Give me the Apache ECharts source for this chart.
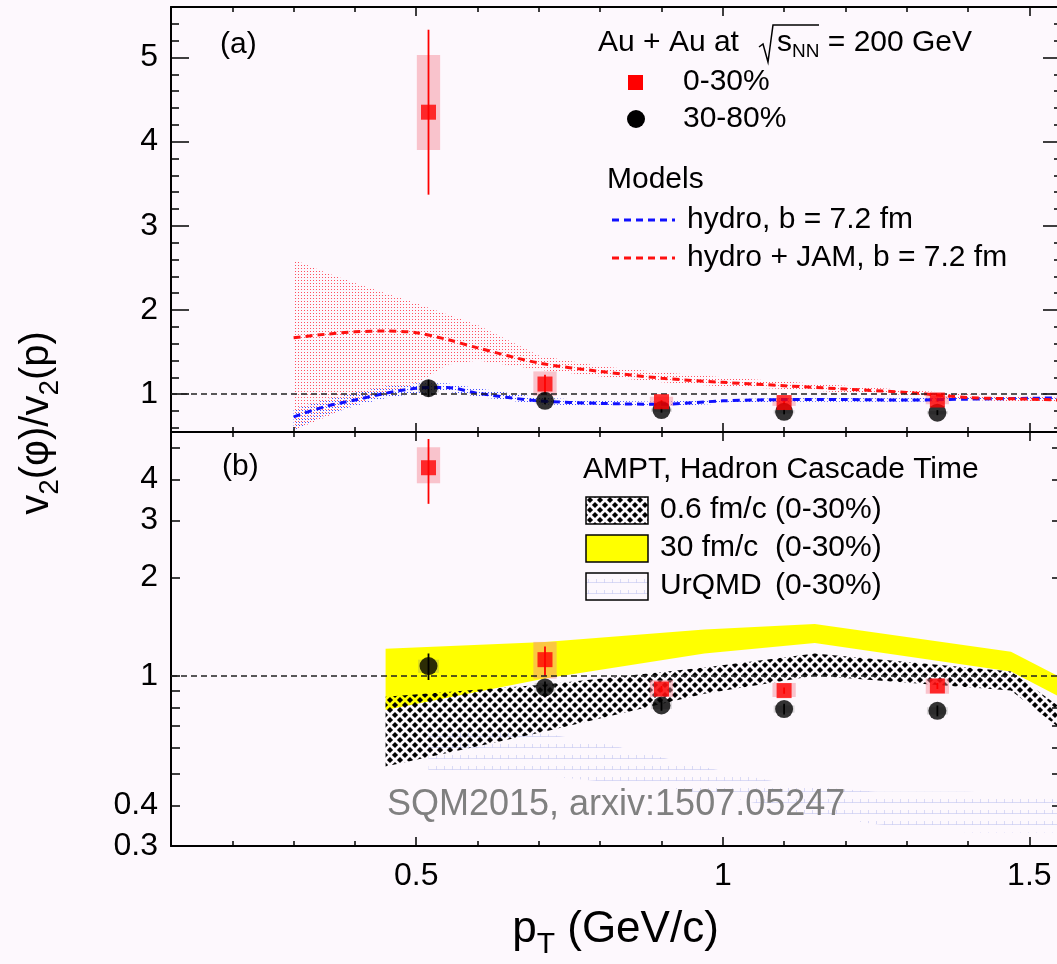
<!DOCTYPE html>
<html>
<head>
<meta charset="utf-8">
<title>v2(phi)/v2(p) vs pT</title>
<script src="https://cdn.jsdelivr.net/npm/echarts@6/dist/echarts.min.js"></script>
<style>
  html, body { margin: 0; padding: 0; background: #fdf8fd; }
  #chart { width: 1057px; height: 964px; }
</style>
</head>
<body>
<div id="chart"></div>
<script>
// measured ratio, Au+Au 200 GeV (same points in both panels)
const pt = [0.52, 0.71, 0.90, 1.10, 1.35];
const central = [4.35, 1.12, 0.91, 0.90, 0.93];
const centralStatLow = [3.37, 1.00, 0.89, 0.88, 0.91];
const centralStatHigh = [5.33, 1.23, 0.93, 0.92, 0.95];
const centralSysLow = [3.90, 0.98, 0.86, 0.86, 0.88];
const centralSysHigh = [5.03, 1.27, 0.97, 0.95, 0.98];
const peripheral = [1.07, 0.92, 0.81, 0.79, 0.78];
const peripheralStatLow = [0.97, 0.88, 0.78, 0.76, 0.75];
const peripheralStatHigh = [1.17, 0.96, 0.84, 0.82, 0.81];
const peripheralSysLow = [1.02, 0.89, 0.79, 0.77, 0.76];
const peripheralSysHigh = [1.12, 0.95, 0.83, 0.81, 0.80];

// hydro models, panel (a)
const modelPt = [0.30, 0.35, 0.40, 0.45, 0.50, 0.55, 0.60, 0.70, 0.80, 0.90, 1.00, 1.10, 1.20, 1.30, 1.40, 1.50, 1.55];
const hydroRatio = [0.73, 0.85, 0.93, 1.01, 1.07, 1.08, 1.01, 0.92, 0.89, 0.88, 0.92, 0.935, 0.935, 0.93, 0.94, 0.95, 0.956];
const hydroLow = [0.57, 0.74, 0.86, 0.95, 1.01, 1.03, 0.97, 0.88, 0.86, 0.85, 0.89, 0.91, 0.91, 0.91, 0.92, 0.93, 0.94];
const hydroHigh = [0.82, 0.93, 1.02, 1.09, 1.13, 1.13, 1.07, 0.96, 0.92, 0.91, 0.94, 0.95, 0.95, 0.95, 0.96, 0.97, 0.98];
const jamRatio = [1.67, 1.71, 1.74, 1.75, 1.73, 1.65, 1.55, 1.37, 1.27, 1.19, 1.14, 1.10, 1.06, 1.02, 0.96, 0.94, 0.93];
const jamLow = [0.57, 0.72, 0.88, 1.00, 1.12, 1.35, 1.40, 1.29, 1.21, 1.14, 1.09, 1.06, 1.02, 0.99, 0.93, 0.91, 0.90];
const jamHigh = [2.60, 2.45, 2.32, 2.20, 2.08, 1.95, 1.82, 1.46, 1.33, 1.26, 1.20, 1.15, 1.10, 1.05, 1.00, 0.97, 0.96];

// AMPT / UrQMD bands, panel (b)
const amptPt = [0.45, 0.71, 0.97, 1.15, 1.47, 1.55];
const ampt30Low = [0.785, 0.98, 1.17, 1.26, 1.03, 0.86];
const ampt30High = [1.21, 1.27, 1.385, 1.44, 1.185, 0.99];
const ampt06Low = [0.526, 0.674, 0.88, 1.00, 0.90, 0.69];
const ampt06High = [0.862, 0.94, 1.06, 1.17, 1.03, 0.80];
const urqmdPt = [0.52, 0.62, 0.72, 0.82, 0.92, 1.02, 1.12, 1.25, 1.40, 1.55];
const urqmdLow = [0.50, 0.50, 0.49, 0.47, 0.45, 0.42, 0.38, 0.35, 0.33, 0.33];
const urqmdHigh = [0.69, 0.68, 0.66, 0.61, 0.55, 0.50, 0.46, 0.44, 0.44, 0.43];

// ticks and labels
const xTickLabels = [0.5, 1, 1.5];
const topMinorTicks = [0.6, 0.8, 1.0, 1.2, 1.4, 1.6, 1.8, 2.0, 2.2, 2.4, 2.6, 2.8, 3.0, 3.2, 3.4, 3.6, 3.8, 4.0, 4.2, 4.4, 4.6, 4.8, 5.0, 5.2, 5.4];
const topMajorTicks = [1, 2, 3, 4, 5];
const bottomTicks = [0.4, 0.5, 0.6, 0.7, 0.8, 0.9, 1, 2, 3, 4, 5];
const bottomTickLabels = [0.3, 0.4, 1, 2, 3, 4];

const FONT = '"Liberation Sans", Arial, Helvetica, sans-serif';
const fmt = v => String(Math.round(v * 10) / 10);

function makePattern(w, h, draw) {
  const c = document.createElement('canvas');
  c.width = w;
  c.height = h;
  draw(c.getContext('2d'));
  return { image: c, repeat: 'repeat' };
}
const redDots = makePattern(3, 3, ctx => { ctx.fillStyle = '#ff5060'; ctx.fillRect(1, 1, 1, 1); });
const blueDots = makePattern(3, 3, ctx => { ctx.fillStyle = '#4450ff'; ctx.fillRect(2, 2, 1, 1); });
const crossHatch = makePattern(10, 10, ctx => {
  ctx.fillStyle = '#000';
  [[5, 5], [0, 0], [10, 0], [0, 10], [10, 10]].forEach(([cx, cy]) => {
    ctx.beginPath();
    ctx.moveTo(cx, cy - 3.1); ctx.lineTo(cx + 3.1, cy); ctx.lineTo(cx, cy + 3.1); ctx.lineTo(cx - 3.1, cy);
    ctx.closePath();
    ctx.fill();
  });
});
const brick = makePattern(8, 11, ctx => {
  ctx.strokeStyle = 'rgba(140,150,230,0.3)';
  ctx.lineWidth = 1;
  ctx.beginPath();
  ctx.moveTo(0, 10.5); ctx.lineTo(8, 10.5);
  ctx.moveTo(4.5, 7); ctx.lineTo(4.5, 10.5);
  ctx.stroke();
});

// --- axes ---
function xFrame(gridIndex, position, opts) {
  return Object.assign({
    type: 'value', gridIndex, position, min: 0.1, max: 1.55, interval: 0.1,
    axisLine: { show: true, onZero: false, lineStyle: { color: '#000', width: 2 } },
    axisTick: { inside: true, length: 5, lineStyle: { color: '#000', width: 1.5 } },
    axisLabel: { show: false },
    splitLine: { show: false }
  }, opts);
}
function xMajor(gridIndex, position) {
  return {
    type: 'value', gridIndex, position, min: 0.1, max: 1.55,
    axisLine: { show: false, onZero: false },
    axisTick: { inside: true, length: 9, customValues: xTickLabels, lineStyle: { color: '#000', width: 1.5 } },
    axisLabel: { show: false },
    splitLine: { show: false }
  };
}
function yFrame(gridIndex, position, type, min, max, ticks, len, showLine, labels) {
  return {
    type, gridIndex, position, min, max,
    axisLine: { show: showLine, onZero: false, lineStyle: { color: '#000', width: 2 } },
    axisTick: { inside: true, length: len, customValues: ticks, lineStyle: { color: '#000', width: 1.5 } },
    axisLabel: labels
      ? { show: true, customValues: labels, formatter: fmt, margin: 13, color: '#000', fontSize: 32, fontFamily: FONT }
      : { show: false },
    splitLine: { show: false }
  };
}

// --- series helpers ---
function band(name, gi, xs, lo, hi, fill, z) {
  return {
    type: 'custom', name, xAxisIndex: gi, yAxisIndex: gi, z, silent: true, clip: true,
    data: xs.map((x, i) => [x, lo[i], hi[i]]),
    encode: { x: 0, y: [1, 2] },
    renderItem: (params, api) => {
      if (params.dataIndex !== 0) return;
      const pts = [];
      xs.forEach((x, i) => pts.push(api.coord([x, hi[i]])));
      for (let i = xs.length - 1; i >= 0; i--) pts.push(api.coord([xs[i], lo[i]]));
      return { type: 'polygon', shape: { points: pts }, style: { fill } };
    }
  };
}
function boxes(name, gi, lo, hi, halfWidth, fill) {
  return {
    type: 'custom', name, xAxisIndex: gi, yAxisIndex: gi, z: 3, silent: true, clip: true,
    data: pt.map((x, i) => [x, lo[i], hi[i]]),
    encode: { x: 0, y: [1, 2] },
    renderItem: (params, api) => {
      const a = api.coord([api.value(0) - halfWidth, api.value(2)]);
      const b = api.coord([api.value(0) + halfWidth, api.value(1)]);
      return { type: 'rect', shape: { x: a[0], y: a[1], width: b[0] - a[0], height: b[1] - a[1] }, style: { fill } };
    }
  };
}
function bars(name, gi, lo, hi, color, extra) {
  return Object.assign({
    type: 'custom', name, xAxisIndex: gi, yAxisIndex: gi, z: 4, silent: true, clip: true,
    data: pt.map((x, i) => [x, lo[i], hi[i]]),
    encode: { x: 0, y: [1, 2] },
    renderItem: (params, api) => {
      const a = api.coord([api.value(0), api.value(1)]);
      const b = api.coord([api.value(0), api.value(2)]);
      return { type: 'line', shape: { x1: a[0], y1: a[1], x2: b[0], y2: b[1] }, style: { stroke: color, lineWidth: 1.8 } };
    }
  }, extra);
}
const unity = {
  silent: true, symbol: 'none', label: { show: false },
  lineStyle: { color: '#222', width: 1.5, type: [6, 4] },
  data: [{ yAxis: 1 }]
};
function points(gi) {
  return [
    boxes('0-30% sys', gi, centralSysLow, centralSysHigh, 0.019, 'rgba(245,130,145,0.45)'),
    boxes('30-80% sys', gi, peripheralSysLow, peripheralSysHigh, 0.017, 'rgba(120,120,120,0.25)'),
    bars('0-30% stat', gi, centralStatLow, centralStatHigh, '#ff0000', gi === 1 ? { markLine: unity } : {}),
    bars('30-80% stat', gi, peripheralStatLow, peripheralStatHigh, '#000'),
    {
      type: 'scatter', name: '30-80%', xAxisIndex: gi, yAxisIndex: gi, z: 5, silent: true,
      symbol: 'circle', symbolSize: 18, itemStyle: { color: '#000' },
      data: pt.map((x, i) => [x, peripheral[i]])
    },
    {
      type: 'scatter', name: '0-30%', xAxisIndex: gi, yAxisIndex: gi, z: 6, silent: true,
      symbol: 'rect', symbolSize: 15, itemStyle: { color: '#ff0000' },
      data: pt.map((x, i) => [x, central[i]])
    }
  ];
}
function modelLine(name, ys, color, extra) {
  return Object.assign({
    type: 'line', name, xAxisIndex: 0, yAxisIndex: 0, z: 4, silent: true,
    showSymbol: false, smooth: 0.3,
    lineStyle: { color, width: 3, type: [7, 5] },
    data: modelPt.map((x, i) => [x, ys[i]])
  }, extra);
}

// --- legends / annotations ---
function txt(x, y, text, size, extra) {
  return {
    type: 'text', x, y, z: 100, silent: true,
    style: Object.assign({
      text, fontSize: size, fontFamily: FONT, fill: '#000',
      align: 'left', textAlign: 'left', verticalAlign: 'middle', textVerticalAlign: 'middle'
    }, extra || {})
  };
}
function swatch(y, fill) {
  return { type: 'rect', z: 100, silent: true, shape: { x: 586, y, width: 62, height: 27 },
    style: { fill, stroke: '#000', lineWidth: 1.5 } };
}
function dash(y, color) {
  return { type: 'line', z: 100, silent: true, shape: { x1: 612, y1: y, x2: 675, y2: y },
    style: { stroke: color, lineWidth: 3, lineDash: [7, 5] } };
}
const richMain = (size, lh) => ({ fontSize: size, lineHeight: lh, fontFamily: FONT, fill: '#000' });
const richSub = (size, lh) => ({ fontSize: size, lineHeight: lh, fontFamily: FONT, fill: '#000', verticalAlign: 'bottom' });

const graphics = [
  txt(220, 45, '(a)', 30),
  txt(222, 467, '(b)', 30),
  txt(598, 43, 'Au + Au at', 30),
  { type: 'polyline', z: 100, silent: true, shape: { points: [[759, 47], [763, 44], [768, 62], [773, 25], [819, 25]] },
    style: { stroke: '#000', lineWidth: 1.5, fill: null } },
  txt(777, 43, '{m|s}{s|NN}{m| = 200 GeV}', 30, { rich: { m: richMain(30, 36), s: richSub(19, 16) } }),
  { type: 'rect', z: 100, silent: true, shape: { x: 628, y: 75, width: 15, height: 15 }, style: { fill: '#ff0000' } },
  txt(683, 82, '0-30%', 30),
  { type: 'circle', z: 100, silent: true, shape: { cx: 636, cy: 119, r: 9 }, style: { fill: '#000' } },
  txt(683, 119, '30-80%', 30),
  txt(607, 180, 'Models', 30),
  dash(220, '#1010ff'),
  txt(687, 220, 'hydro, b = 7.2 fm', 30),
  dash(258, '#ff1010'),
  txt(687, 258, 'hydro + JAM, b = 7.2 fm', 30),
  txt(583, 470, 'AMPT, Hadron Cascade Time', 30),
  swatch(497, crossHatch),
  txt(660, 510, '0.6 fm/c', 30),
  txt(775, 510, '(0-30%)', 30),
  swatch(535, '#ffff00'),
  txt(660, 548, '30 fm/c', 30),
  txt(775, 548, '(0-30%)', 30),
  swatch(573, brick),
  txt(660, 586, 'UrQMD', 30),
  txt(775, 586, '(0-30%)', 30),
  txt(387, 805, 'SQM2015, arxiv:1507.05247', 36, { fill: '#808080' }),
  {
    type: 'text', x: 37, y: 423, rotation: Math.PI / 2, z: 100, silent: true,
    style: {
      text: '{m|v}{s|2}{m|(φ)/v}{s|2}{m|(p)}',
      rich: { m: richMain(40, 54), s: richSub(28, 24) },
      align: 'center', textAlign: 'center', verticalAlign: 'middle', textVerticalAlign: 'middle'
    }
  }
];

const chart = echarts.init(document.getElementById('chart'), null, { renderer: 'canvas' });
chart.setOption({
  backgroundColor: '#fdf8fd',
  animation: false,
  grid: [
    { left: 171, top: 7, width: 889, height: 425, outerBoundsMode: 'none', containLabel: false },
    { left: 171, top: 432, width: 889, height: 414, outerBoundsMode: 'none', containLabel: false }
  ],
  xAxis: [
    xFrame(0, 'bottom'),
    xFrame(1, 'bottom', {
      axisLabel: { show: true, customValues: xTickLabels, formatter: fmt, margin: 14, color: '#000', fontSize: 32, fontFamily: FONT },
      name: '{m|p}{s|T}{m| (GeV/c)}',
      nameLocation: 'middle',
      nameGap: 54,
      nameTextStyle: { rich: { m: richMain(44, 60), s: richSub(30, 20) } }
    }),
    xFrame(0, 'top'),
    xFrame(1, 'top'),
    xMajor(0, 'bottom'),
    xMajor(0, 'top'),
    xMajor(1, 'bottom'),
    xMajor(1, 'top')
  ],
  yAxis: [
    yFrame(0, 'left', 'value', 0.55, 5.6, topMinorTicks, 8, true, topMajorTicks),
    Object.assign(yFrame(1, 'left', 'log', 0.3, 5.6, bottomTicks, 9, true, bottomTickLabels), { logBase: 10 }),
    yFrame(0, 'left', 'value', 0.55, 5.6, topMajorTicks, 18, false, null),
    yFrame(0, 'right', 'value', 0.55, 5.6, topMinorTicks, 6, true, null),
    yFrame(0, 'right', 'value', 0.55, 5.6, topMajorTicks, 17, false, null),
    Object.assign(yFrame(1, 'right', 'log', 0.3, 5.6, bottomTicks, 8, true, null), { logBase: 10 })
  ],
  series: [
    band('hydro + JAM band', 0, modelPt, jamLow, jamHigh, redDots, 1),
    band('hydro band', 0, modelPt, hydroLow, hydroHigh, blueDots, 1),
    modelLine('hydro, b = 7.2 fm', hydroRatio, '#1010ff', { markLine: unity }),
    modelLine('hydro + JAM, b = 7.2 fm', jamRatio, '#ff1010'),
    ...points(0),
    band('UrQMD (0-30%)', 1, urqmdPt, urqmdLow, urqmdHigh, brick, 1),
    band('30 fm/c (0-30%)', 1, amptPt, ampt30Low, ampt30High, '#ffff00', 1),
    band('0.6 fm/c (0-30%)', 1, amptPt, ampt06Low, ampt06High, crossHatch, 2),
    ...points(1)
  ],
  graphic: { elements: graphics }
});
</script>
</body>
</html>
